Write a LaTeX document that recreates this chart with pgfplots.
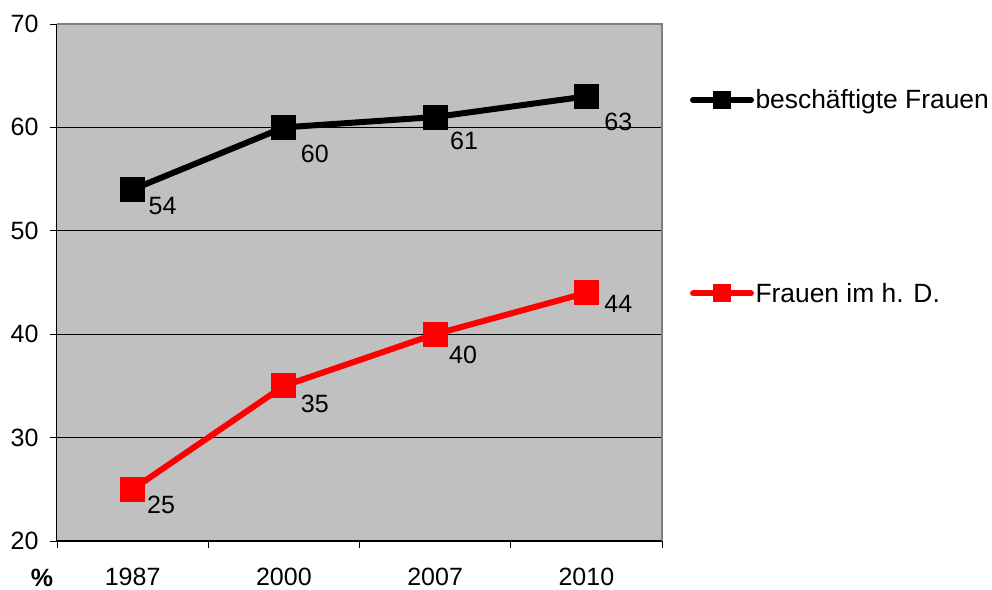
\documentclass[border=0pt]{standalone}
\usepackage{fontspec}
\setmainfont{Liberation Sans}
\usepackage{pgfplots}
\pgfplotsset{compat=1.18}
\definecolor{plotbg}{RGB}{192,192,192}
\definecolor{framegray}{RGB}{128,128,128}
\newcommand{\chartfont}{\fontsize{25bp}{30bp}\selectfont}
\newcommand{\legendfont}{\fontsize{26.4bp}{31bp}\selectfont}

\begin{document}
\begin{tikzpicture}[x=1bp,y=1bp]
\useasboundingbox (-57,-49) rectangle (935,541);
\begin{axis}[
    name=ax,
    at={(0,0)}, anchor=south west,
    scale only axis, width=605bp, height=517bp,
    xmin=-0.5, xmax=3.5, ymin=20, ymax=70,
    axis lines=left,
    axis line style={-, line width=1bp, black},
    axis background/.style={fill=plotbg},
    xtick={0,1,2,3}, xticklabels={1987,2000,2007,2010},
    minor xtick={-0.5,0.5,1.5,2.5,3.5},
    ytick={20,30,...,70},
    tick align=outside,
    major tick length=7bp, minor tick length=7bp,
    major x tick style={draw=none},
    every tick/.style={black, line width=0.8bp},
    ymajorgrids, grid style={black, line width=0.8bp},
    ticklabel style={font=\chartfont},
    xticklabel style={yshift=-17bp},
    yticklabel style={xshift=-8bp},
    /pgf/number format/assume math mode=true,
    legend style={at={(1.046,0.666)}, anchor=west, draw=none, fill=none,
        font=\legendfont, row sep=170bp, inner sep=0pt,
        nodes={inner sep=1.5bp}},
    legend cell align=left,
    legend image code/.code={
        \draw[#1, line cap=round, mark repeat=2, mark phase=2, mark size=8.5bp]
            plot coordinates {(1bp,0bp) (30bp,0bp) (59bp,0bp)};},
]
\addplot[black, line width=6bp, mark=square*, mark size=12bp,
    mark options={line width=1bp}]
    coordinates {(0,54) (1,60) (2,61) (3,63)};
\addlegendentry{beschäftigte Frauen}
\addplot[red, line width=6bp, mark=square*, mark size=12bp,
    mark options={line width=1bp}]
    coordinates {(0,25) (1,35) (2,40) (3,44)};
\addlegendentry{Frauen im h. D.}

% data labels, each with its own offset from the marker
\addplot[draw=none, forget plot, nodes near coords, point meta=explicit symbolic,
    visualization depends on={\thisrow{dx} \as \dx},
    visualization depends on={\thisrow{dy} \as \dy},
    nodes near coords style={anchor=center, xshift=\dx bp, yshift=\dy bp,
        font=\chartfont, black}]
    table[x=x, y=y, meta=lab] {
x y  lab dx dy
0 54 54  30 -17
1 60 60  31 -27
2 61 61  29 -24
3 63 63  32 -26
0 25 25  28.5 -16
1 35 35  31 -18
2 40 40  28 -21
3 44 44  32 -11
};
\end{axis}
\draw[framegray, line width=1.2bp] (ax.north west) -- (ax.north east) -- (ax.south east);
\node[font=\chartfont\bfseries, inner sep=0pt] at ([xshift=-15bp, yshift=-37bp]ax.south west) {\%};
\end{tikzpicture}
\end{document}
